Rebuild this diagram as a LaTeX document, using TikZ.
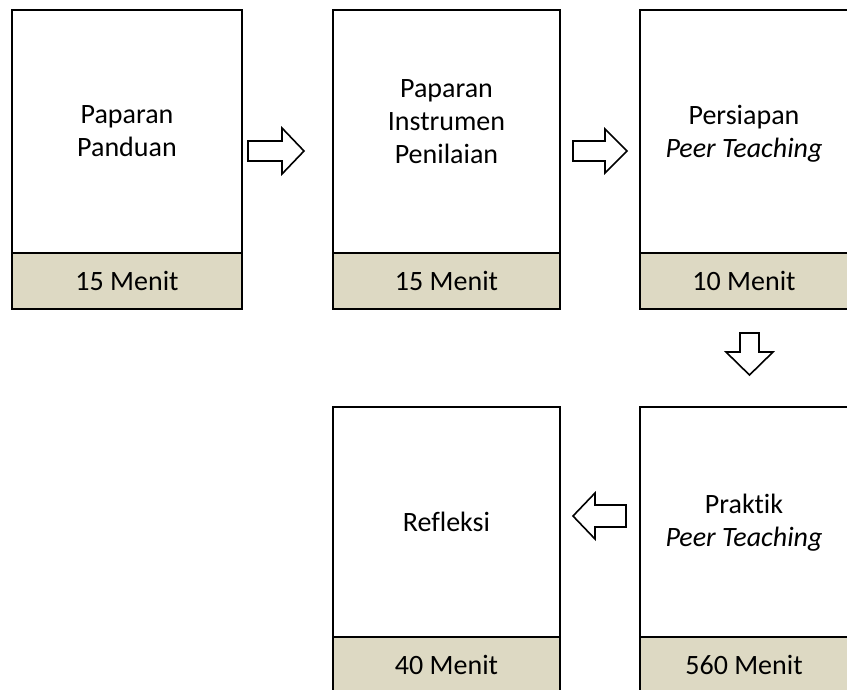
\documentclass[tikz,border=0pt]{standalone}
\usepackage{fontspec}
\setmainfont[Ligatures=NoCommon]{Carlito}
\usetikzlibrary{calc}
\definecolor{footfill}{HTML}{DDD9C3}
\begin{document}
\begin{tikzpicture}[x=1pt,y=-1pt,
  stagebox/.style={draw=black, line width=2pt, fill=white, rectangle,
    anchor=north west, outer sep=0pt, inner sep=0pt},
  timebox/.style={draw=black, line width=2pt, fill=footfill, rectangle,
    anchor=north west, outer sep=0pt, inner sep=0pt, align=center,
    font=\fontsize{28}{33}\selectfont},
  stagetext/.style={align=center, inner sep=0pt, font=\fontsize{28}{33}\selectfont},
  blockarrow/.style={draw=black, line width=1.6pt, fill=white, line join=miter}]
\useasboundingbox (0,0) rectangle (847,689);
\begin{scope}
\clip (0,0) rectangle (847,689);
% top row
\node[stagebox, minimum width=230pt, minimum height=243pt] (s1) at (12,10) {};
\node[timebox, minimum width=230pt, minimum height=56pt] (t1) at (s1.south west) {15 Menit};
\node[stagebox, minimum width=227pt, minimum height=243pt] (s2) at (333,10) {};
\node[timebox, minimum width=227pt, minimum height=56pt] (t2) at (s2.south west) {15 Menit};
\node[stagebox, minimum width=208pt, minimum height=243pt] (s3) at (640,10) {};
\node[timebox, minimum width=208pt, minimum height=56pt] (t3) at (s3.south west) {10 Menit};
% bottom row
\node[stagebox, minimum width=227pt, minimum height=230pt] (s5) at (333,407) {};
\node[timebox, minimum width=227pt, minimum height=56pt] (t5) at (s5.south west) {40 Menit};
\node[stagebox, minimum width=208pt, minimum height=230pt] (s4) at (640,407) {};
\node[timebox, minimum width=208pt, minimum height=56pt] (t4) at (s4.south west) {560 Menit};
\end{scope}
% stage titles
\node[stagetext] (l1) at (s1.center) {Paparan\\Panduan};
\node[stagetext] (l2) at ($(s2.center)+(0,-10)$) {Paparan\\Instrumen\\Penilaian};
\node[stagetext] (l3) at ($(s3.center)+(0,2)$) {Persiapan\\\textit{Peer Teaching}};
\node[stagetext] (l5) at (s5.center) {Refleksi};
\node[stagetext] (l4) at ($(s4.center)+(0,1)$) {Praktik\\\textit{Peer Teaching}};
% block arrows between the stages
\draw[blockarrow] (248,141) -- (282,141) -- (282,128) -- (304,151) -- (282,174)
  -- (282,161) -- (248,161) -- cycle;
\draw[blockarrow] (573,141) -- (605,141) -- (605,129) -- (627,151) -- (605,173)
  -- (605,161) -- (573,161) -- cycle;
\draw[blockarrow] (740,333) -- (759,333) -- (759,352) -- (773,352) -- (749.5,375)
  -- (726,352) -- (740,352) -- cycle;
\draw[blockarrow] (626,505) -- (595,505) -- (595,493) -- (573,516) -- (595,539)
  -- (595,527) -- (626,527) -- cycle;
\end{tikzpicture}
\end{document}
